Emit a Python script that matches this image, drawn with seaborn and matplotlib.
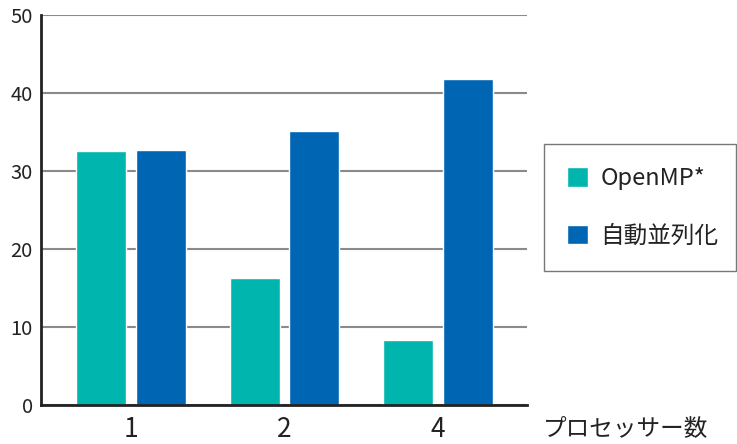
import pandas as pd
import numpy as np
import matplotlib.pyplot as plt
import seaborn as sns

# データ
processors = ['1', '2', '4']
openmp = [32.5, 16.2, 8.3]
auto_par = [32.65, 35.1, 41.75]
series_names = ['OpenMP*', '自動並列化']
colors = ['#00B5AD', '#0066B3']

df = pd.DataFrame({
    'procs': processors * 2,
    'value': openmp + auto_par,
    'method': [series_names[0]] * 3 + [series_names[1]] * 3,
})

sns.set_theme(style='white')
plt.rcParams['font.family'] = ['Noto Sans CJK JP', 'DejaVu Sans']

fig = plt.figure(figsize=(7.37, 4.44), dpi=100)
ax = fig.add_axes([41 / 737, 1 - 404.7 / 444, 486 / 737, 389.7 / 444])

sns.barplot(data=df, x='procs', y='value', hue='method', palette=colors,
            width=0.775, gap=0.16, saturation=1, ax=ax)

ax.set_xlim(-0.586, 2.58)
ax.set_ylim(0, 50)
ax.set_yticks([0, 10, 20, 30, 40, 50])
ax.yaxis.grid(True, color='#8a8a8a', linewidth=1.5)
ax.set_axisbelow(True)

for s in ['top', 'right']:
    ax.spines[s].set_visible(False)
for s in ['left', 'bottom']:
    ax.spines[s].set_color('#222222')
    ax.spines[s].set_linewidth(2)

ax.tick_params(axis='y', direction='in', length=7.5, width=1.5, color='#222222',
               labelsize=14.5, labelcolor='#222222', pad=6)
ax.tick_params(axis='x', which='major', length=0, labelsize=19, labelcolor='#222222', pad=8)
ax.set_xticks([2.58], minor=True)
ax.tick_params(axis='x', which='minor', direction='in', length=7, width=2, color='#222222')

ax.set_ylabel('')
ax.set_xlabel('プロセッサー数', fontsize=17, color='#222222', ha='left', va='center')
ax.xaxis.set_label_coords(1.033, -0.06)

# 凡例（右側の枠）
handles, labels = ax.get_legend_handles_labels()
ax.legend(handles, labels, loc='upper left',
          bbox_to_anchor=(544 / 737, 1 - 273 / 444, 192 / 737, 129 / 444),
          bbox_transform=fig.transFigure, mode='expand',
          fontsize=17, frameon=True, fancybox=False, edgecolor='#555555',
          handlelength=0.9, handleheight=0.9, handletextpad=0.5,
          labelspacing=1.47, borderpad=0.98, borderaxespad=0)
ax.get_legend().get_frame().set_linewidth(1.0)
for t in ax.get_legend().get_texts():
    t.set_color('#222222')

fig.savefig('out.png', dpi=100)
